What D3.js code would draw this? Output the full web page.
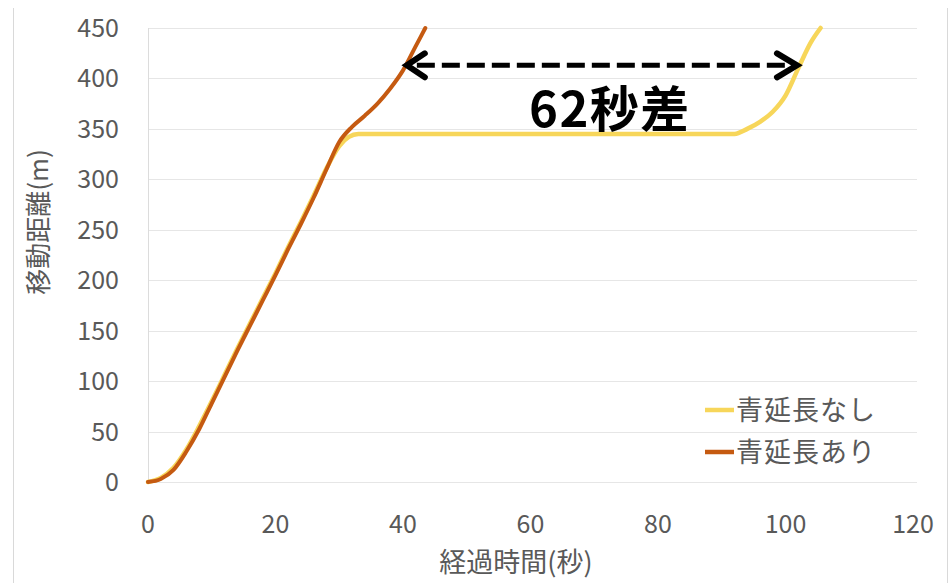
<!DOCTYPE html>
<html>
<head>
<meta charset="utf-8">
<script src="https://cdn.jsdelivr.net/npm/d3@7"></script>
<style>
  body { margin: 0; background: #fff; }
  svg { display: block; font-family: "Noto Sans CJK JP", "Noto Sans", sans-serif; }
</style>
</head>
<body>
<svg width="951" height="583"></svg>
<script>
// data
const xTicks = [0, 20, 40, 60, 80, 100, 120];
const yTicks = [0, 50, 100, 150, 200, 250, 300, 350, 400, 450];

// 青延長なし (no green extension)
const noExtT = [0, 2, 4, 6, 8, 10, 12, 14, 16, 18, 20, 22, 24, 26, 28, 30, 31.5, 33, 92, 94, 96, 98, 100, 102, 104, 105.5];
const noExtD = [0, 4, 14, 32, 55, 80, 106, 132, 157, 182, 207, 233, 258, 284, 311, 333, 342, 345, 345, 350, 357, 367, 383, 410, 436, 450];

// 青延長あり (with green extension)
const extT = [0, 2, 4, 6, 8, 10, 12, 14, 16, 18, 20, 22, 24, 26, 28, 30, 32, 34, 36, 38, 40, 42, 43.5];
const extD = [0, 3, 12, 30, 52, 78, 104, 130, 155, 180, 205, 231, 256, 282, 310, 337, 352, 363, 375, 390, 408, 432, 450];

const seriesNames = ["青延長なし", "青延長あり"];
const seriesColors = ["#F7D65A", "#C55A11"];

// annotation: time gap at ~413 m
const gapFrom = 40.6, gapTo = 101.8, gapAt = 413;
const gapLabel = "62秒差";

const svg = d3.select("svg");
const margin = { left: 148, top: 28, right: 38, bottom: 101 };
const width = 951 - margin.left - margin.right;
const height = 583 - margin.top - margin.bottom;

const x = d3.scaleLinear().domain([0, 120]).range([0, width]);
const y = d3.scaleLinear().domain([0, 450]).range([height, 0]);

// outer frame lines
svg.append("line").attr("x1", 13.5).attr("x2", 13.5).attr("y1", 8).attr("y2", 583)
    .attr("stroke", "#D9D9D9");
svg.append("line").attr("x1", 947.5).attr("x2", 947.5).attr("y1", 8).attr("y2", 583)
    .attr("stroke", "#D9D9D9");

const g = svg.append("g").attr("transform", `translate(${margin.left},${margin.top})`);

// gridlines
g.append("g")
    .selectAll("line")
    .data(yTicks)
    .enter().append("line")
    .attr("x1", 0)
    .attr("x2", width + 4)
    .attr("y1", d => Math.round(y(d)) + 0.5)
    .attr("y2", d => Math.round(y(d)) + 0.5)
    .attr("stroke", "#E6E6E6")
    .attr("stroke-width", 1.2);

g.append("line")
    .attr("x1", 0.5).attr("x2", 0.5)
    .attr("y1", 0).attr("y2", height)
    .attr("stroke", "#DCDCDC");

// y tick labels
g.append("g")
    .selectAll("text")
    .data(yTicks)
    .enter().append("text")
    .attr("x", -29)
    .attr("y", d => y(d))
    .attr("dy", "0.36em")
    .attr("text-anchor", "end")
    .attr("font-size", 25)
    .attr("fill", "#595959")
    .text(d => d);

// x tick labels
g.append("g")
    .selectAll("text")
    .data(xTicks)
    .enter().append("text")
    .attr("x", d => x(d))
    .attr("y", height + 42)
    .attr("dy", "0.36em")
    .attr("text-anchor", "middle")
    .attr("font-size", 25)
    .attr("fill", "#595959")
    .text(d => d);

// axis titles
svg.append("text")
    .attr("transform", "translate(48,222) rotate(-90)")
    .attr("text-anchor", "middle")
    .attr("font-size", 26)
    .attr("fill", "#595959")
    .text("移動距離(m)");

svg.append("text")
    .attr("x", 516)
    .attr("y", 572)
    .attr("text-anchor", "middle")
    .attr("font-size", 27)
    .attr("fill", "#595959")
    .text("経過時間(秒)");

// lines
const line = d3.line()
    .x(d => x(d[0]))
    .y(d => y(d[1]))
    .curve(d3.curveMonotoneX);

const series = [
    d3.zip(noExtT, noExtD),
    d3.zip(extT, extD)
];

series.forEach((pts, i) => {
    g.append("path")
        .datum(pts)
        .attr("d", line)
        .attr("fill", "none")
        .attr("stroke", seriesColors[i])
        .attr("stroke-width", i === 0 ? 4.5 : 4)
        .attr("stroke-linejoin", "round")
        .attr("stroke-linecap", "round");
});

// gap arrow
const ay = y(gapAt);
const x1 = x(gapFrom), x2 = x(gapTo);
g.append("line")
    .attr("x1", x1 + 10).attr("x2", x2 - 10)
    .attr("y1", ay).attr("y2", ay)
    .attr("stroke", "#000")
    .attr("stroke-width", 5)
    .attr("stroke-dasharray", "18 7");

g.append("path")
    .attr("d", `M ${x1 + 18} ${ay - 12} L ${x1} ${ay} L ${x1 + 18} ${ay + 12}`)
    .attr("fill", "none")
    .attr("stroke", "#000")
    .attr("stroke-width", 6)
    .attr("stroke-linecap", "round")
    .attr("stroke-linejoin", "miter");

g.append("path")
    .attr("d", `M ${x2 - 20} ${ay - 12} L ${x2} ${ay} L ${x2 - 20} ${ay + 12}`)
    .attr("fill", "none")
    .attr("stroke", "#000")
    .attr("stroke-width", 6)
    .attr("stroke-linecap", "round")
    .attr("stroke-linejoin", "miter");

g.append("text")
    .attr("x", x((gapFrom + gapTo) / 2) + 8)
    .attr("y", 99)
    .attr("text-anchor", "middle")
    .attr("font-size", 49)
    .attr("font-weight", "bold")
    .attr("letter-spacing", 1.5)
    .attr("fill", "#000")
    .text(gapLabel);

// legend
const legend = svg.append("g")
    .selectAll("g")
    .data(seriesNames)
    .enter().append("g")
    .attr("transform", (d, i) => `translate(705,${410 + i * 42})`);

legend.append("line")
    .attr("x1", 0).attr("x2", 29)
    .attr("y1", 0).attr("y2", 0)
    .attr("stroke", (d, i) => seriesColors[i])
    .attr("stroke-width", 4.5);

legend.append("text")
    .attr("x", 31)
    .attr("y", 0)
    .attr("dy", "0.36em")
    .attr("font-size", 27)
    .attr("letter-spacing", 1)
    .attr("fill", "#595959")
    .text(d => d);
</script>
</body>
</html>
